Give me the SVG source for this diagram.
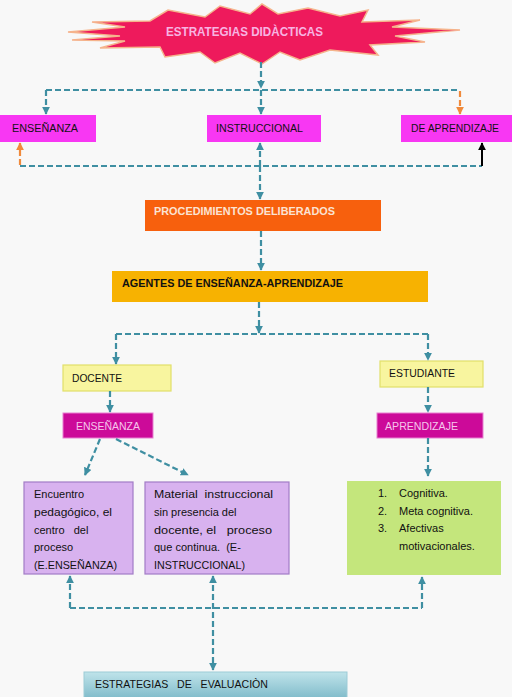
<svg xmlns="http://www.w3.org/2000/svg" width="512" height="697" viewBox="0 0 512 697">
<style>
.t{font-family:"Liberation Sans",Arial,sans-serif;font-size:10px;fill:#111}
.m{font-size:11px}
.b{font-weight:bold}
.c{stroke:#3f8fa2;stroke-width:2.2;stroke-dasharray:6 3;fill:none}
.o{stroke:#f08a3c;stroke-width:2.2;stroke-dasharray:6 3;fill:none}
.mag{fill:#f837f3}
.dmag{fill:#cc0a99;stroke:#e77fd0;stroke-width:1}
.yel{fill:#f8f59f;stroke:#e2df6a;stroke-width:1.2}
.pur{fill:#d8b2ef;stroke:#a27cc6;stroke-width:1.2}
</style>
<defs>
<marker id="a" viewBox="0 0 10 10" refX="9" refY="5" markerWidth="8" markerHeight="8" markerUnits="userSpaceOnUse" orient="auto-start-reverse"><path d="M0,0 L10,5 L0,10 z" fill="#3f8fa2"/></marker>
<marker id="ao" viewBox="0 0 10 10" refX="9" refY="5" markerWidth="8" markerHeight="8" markerUnits="userSpaceOnUse" orient="auto-start-reverse"><path d="M0,0 L10,5 L0,10 z" fill="#f08a3c"/></marker>
<marker id="ak" viewBox="0 0 10 10" refX="9" refY="5" markerWidth="8" markerHeight="8" markerUnits="userSpaceOnUse" orient="auto"><path d="M0,0 L10,5 L0,10 z" fill="#000"/></marker>
<linearGradient id="ev" x1="0" y1="0" x2="0" y2="1"><stop offset="0" stop-color="#bfe3ea"/><stop offset="1" stop-color="#78b6c6"/></linearGradient>
</defs>
<rect width="512" height="697" fill="#f8f8f8"/>

<g id="estrategias">
<polygon points="68,32 125,27 92,22 150,21 168,10 205,17 220,6 250,14 262,4 278,14 308,8 340,16 368,10 362,22 420,20 392,27 460,30 395,36 425,42 370,45 378,55 330,50 300,60 280,52 262,64 240,53 215,63 200,52 165,57 160,47 100,48 125,41 72,40 120,36" fill="#ee1a5c" stroke="#f5b48c" stroke-width="1.5"/>
<text class="t b" x="166" y="36" font-size="13" style="fill:#f7b4e2;font-size:13px" textLength="157" lengthAdjust="spacingAndGlyphs">ESTRATEGIAS DIDÀCTICAS</text>
</g>

<g id="ensenanza-top"><rect class="mag" x="0" y="115" width="96" height="27"/><text class="t" x="12" y="132" textLength="66" lengthAdjust="spacingAndGlyphs">ENSEÑANZA</text></g>
<g id="instruccional"><rect class="mag" x="207" y="115" width="114" height="27"/><text class="t" x="216" y="132" textLength="87" lengthAdjust="spacingAndGlyphs">INSTRUCCIONAL</text></g>
<g id="de-aprendizaje"><rect class="mag" x="401" y="115" width="111" height="27"/><text class="t" x="411" y="132" textLength="88" lengthAdjust="spacingAndGlyphs">DE APRENDIZAJE</text></g>

<g id="procedimientos"><rect x="145" y="200" width="236" height="31" fill="#f7600d"/><text class="t b" x="154" y="215" style="fill:#fbe3d3" textLength="181" lengthAdjust="spacingAndGlyphs">PROCEDIMIENTOS DELIBERADOS</text></g>
<g id="agentes"><rect x="112" y="271" width="316" height="31" fill="#f7b201"/><text class="t b" x="122" y="287" textLength="221" lengthAdjust="spacingAndGlyphs">AGENTES DE ENSEÑANZA-APRENDIZAJE</text></g>

<g id="docente"><rect class="yel" x="63" y="365" width="108" height="26"/><text class="t m" x="72" y="382" textLength="50" lengthAdjust="spacingAndGlyphs">DOCENTE</text></g>
<g id="ensenanza"><rect class="dmag" x="63" y="413" width="90" height="25"/><text class="t m" x="76" y="430" style="fill:#f6c6ec" textLength="64" lengthAdjust="spacingAndGlyphs">ENSEÑANZA</text></g>
<g id="estudiante"><rect class="yel" x="380" y="361" width="103" height="26"/><text class="t m" x="389" y="377" textLength="66" lengthAdjust="spacingAndGlyphs">ESTUDIANTE</text></g>
<g id="aprendizaje"><rect class="dmag" x="377" y="413" width="106" height="25"/><text class="t m" x="385" y="430" style="fill:#f6c6ec" textLength="73" lengthAdjust="spacingAndGlyphs">APRENDIZAJE</text></g>

<g id="encuentro"><rect class="pur" x="24" y="482" width="109" height="92"/>
<text class="t m" x="34" y="498">Encuentro</text>
<text class="t m" x="34" y="516" textLength="78" lengthAdjust="spacingAndGlyphs">pedagógico, el</text>
<text class="t m" x="34" y="534" xml:space="preserve">centro   del</text>
<text class="t m" x="34" y="551">proceso</text>
<text class="t m" x="34" y="569" textLength="83" lengthAdjust="spacingAndGlyphs">(E.ENSEÑANZA)</text>
</g>
<g id="material"><rect class="pur" x="145" y="482" width="144" height="92"/>
<text class="t m" x="154" y="498" xml:space="preserve" textLength="119" lengthAdjust="spacingAndGlyphs">Material  instruccional</text>
<text class="t m" x="154" y="516">sin presencia del</text>
<text class="t m" x="154" y="534" xml:space="preserve" textLength="118" lengthAdjust="spacingAndGlyphs">docente, el   proceso</text>
<text class="t m" x="154" y="551" xml:space="preserve">que continua.  (E-</text>
<text class="t m" x="154" y="569" textLength="91" lengthAdjust="spacingAndGlyphs">INSTRUCCIONAL)</text>
</g>
<g id="tipos"><rect x="347" y="481" width="154" height="94" fill="#c4e67c"/>
<text class="t m" x="378" y="497">1.</text><text class="t m" x="399" y="497">Cognitiva.</text>
<text class="t m" x="378" y="515">2.</text><text class="t m" x="399" y="515">Meta cognitiva.</text>
<text class="t m" x="378" y="532">3.</text><text class="t m" x="399" y="532">Afectivas</text>
<text class="t m" x="399" y="550">motivacionales.</text>
</g>
<g id="evaluacion"><rect x="84" y="672" width="263" height="30" fill="url(#ev)" stroke="#9ccbd6" stroke-width="1"/><text class="t m" x="95" y="688" xml:space="preserve" textLength="173" lengthAdjust="spacingAndGlyphs">ESTRATEGIAS   DE   EVALUACIÒN</text></g>

<g id="connectors">
<line class="c" x1="261" y1="62" x2="261" y2="88" marker-end="url(#a)"/>
<line class="c" x1="261" y1="90" x2="261" y2="114" marker-end="url(#a)"/>
<line class="c" x1="46" y1="90" x2="460" y2="90"/>
<line class="c" x1="46" y1="90" x2="46" y2="114" marker-end="url(#a)"/>
<line class="o" x1="460" y1="91" x2="460" y2="114" marker-end="url(#ao)"/>
<line class="c" x1="20" y1="166" x2="482" y2="166"/>
<line class="o" x1="20" y1="165" x2="20" y2="143" marker-end="url(#ao)"/>
<line x1="482" y1="166" x2="482" y2="143" stroke="#000" stroke-width="2" marker-end="url(#ak)"/>
<line class="c" x1="260" y1="166" x2="260" y2="143" marker-end="url(#a)"/>
<line class="c" x1="260" y1="166" x2="260" y2="199" marker-end="url(#a)"/>
<line class="c" x1="261" y1="231" x2="261" y2="270" marker-end="url(#a)"/>
<line class="c" x1="259" y1="302" x2="259" y2="333" marker-end="url(#a)"/>
<line class="c" x1="116" y1="334" x2="428" y2="334"/>
<line class="c" x1="116" y1="334" x2="116" y2="364" marker-end="url(#a)"/>
<line class="c" x1="428" y1="334" x2="428" y2="360" marker-end="url(#a)"/>
<line class="c" x1="110" y1="391" x2="110" y2="412" marker-end="url(#a)"/>
<line class="c" x1="428" y1="387" x2="428" y2="412" marker-end="url(#a)"/>
<line class="c" x1="100" y1="439" x2="85" y2="475" marker-end="url(#a)"/>
<line class="c" x1="116" y1="439" x2="188" y2="475" marker-end="url(#a)"/>
<line class="c" x1="428" y1="438" x2="428" y2="476" marker-end="url(#a)"/>
<line class="c" x1="70" y1="608" x2="422" y2="608"/>
<line class="c" x1="70" y1="608" x2="70" y2="576" marker-end="url(#a)"/>
<line class="c" x1="422" y1="608" x2="422" y2="577" marker-end="url(#a)"/>
<line class="c" x1="213" y1="576" x2="213" y2="670" marker-start="url(#a)" marker-end="url(#a)"/>
</g>
</svg>
